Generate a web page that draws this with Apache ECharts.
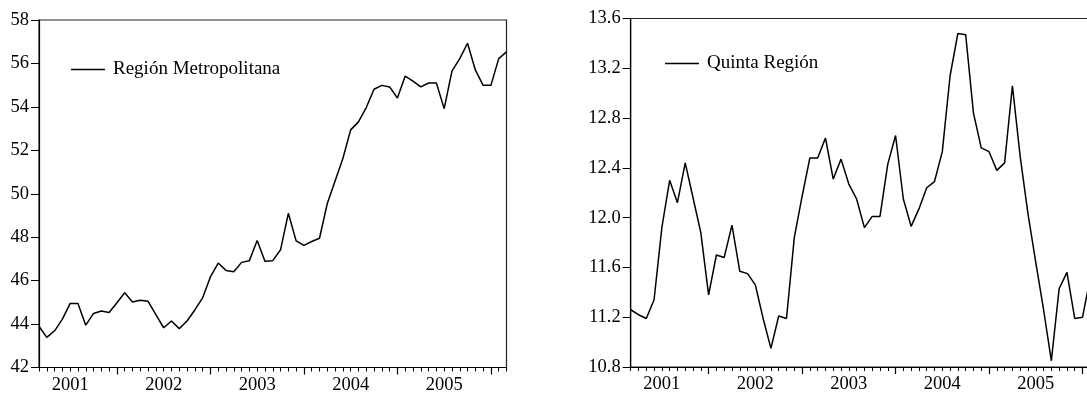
<!DOCTYPE html>
<html>
<head>
<meta charset="utf-8">
<script src="https://cdn.jsdelivr.net/npm/echarts@6/dist/echarts.min.js"></script>
<style>html,body{margin:0;padding:0;background:#fff;overflow:hidden}#c{width:1087px;height:398px}</style>
</head>
<body>
<div id="c"></div>
<script>
var months = ['2001M03','2001M04','2001M05','2001M06','2001M07','2001M08','2001M09','2001M10','2001M11','2001M12',
'2002M01','2002M02','2002M03','2002M04','2002M05','2002M06','2002M07','2002M08','2002M09','2002M10','2002M11','2002M12',
'2003M01','2003M02','2003M03','2003M04','2003M05','2003M06','2003M07','2003M08','2003M09','2003M10','2003M11','2003M12',
'2004M01','2004M02','2004M03','2004M04','2004M05','2004M06','2004M07','2004M08','2004M09','2004M10','2004M11','2004M12',
'2005M01','2005M02','2005M03','2005M04','2005M05','2005M06','2005M07','2005M08','2005M09','2005M10','2005M11','2005M12',
'2006M01','2006M02','2006M03'];

var metropolitana = [43.90,43.39,43.69,44.23,44.95,44.95,43.95,44.49,44.60,44.53,
44.98,45.44,45.02,45.10,45.05,44.44,43.83,44.14,43.79,44.14,44.65,45.21,
46.17,46.81,46.47,46.41,46.84,46.92,47.85,46.89,46.92,47.42,49.10,47.83,
47.62,47.80,47.95,49.55,50.59,51.62,52.94,53.31,53.97,54.81,54.99,54.92,
54.41,55.42,55.19,54.92,55.10,55.10,53.92,55.65,56.22,56.93,55.70,54.99,
54.99,56.22,56.53];

var quinta = [11.26,11.22,11.19,11.34,11.92,12.30,12.12,12.44,12.16,11.88,
11.38,11.70,11.68,11.94,11.57,11.55,11.46,11.19,10.95,11.21,11.19,11.84,
12.17,12.48,12.48,12.64,12.31,12.47,12.27,12.15,11.92,12.01,12.01,12.43,
12.66,12.15,11.93,12.07,12.24,12.29,12.53,13.14,13.48,13.47,12.84,12.56,
12.53,12.38,12.44,13.06,12.49,12.03,11.64,11.26,10.85,11.43,11.56,11.19,
11.20,11.52,11.60];

var seriesNames = ['Región Metropolitana','Quinta Región'];
var yearLabelMonth = 'M07';
var majorTickMonth = 'M01';

var FONT = 'Liberation Serif';
var chart = echarts.init(document.getElementById('c'));

function minorAxis(gi){
  return {
    type:'category', gridIndex:gi, data:months, boundaryGap:false, position:'bottom',
    axisLine:{show:true, lineStyle:{color:'#000', width:1.2}},
    axisTick:{show:true, inside:false, length:4, interval:0, alignWithLabel:true, lineStyle:{color:'#000', width:1}},
    axisLabel:{show:true, margin:8, interval:function(i,v){return v.slice(4)===yearLabelMonth;},
      formatter:function(v){return v.slice(0,4);}, color:'#000', fontFamily:FONT, fontSize:18.5},
    splitLine:{show:false}
  };
}
function majorAxis(gi){
  return {
    type:'category', gridIndex:gi, data:months, boundaryGap:false, position:'bottom',
    axisLine:{show:false},
    axisTick:{show:true, inside:false, length:7, interval:function(i,v){return v.slice(4)===majorTickMonth;}, lineStyle:{color:'#000', width:1.2}},
    axisLabel:{show:false}, splitLine:{show:false}
  };
}
function yAxis(gi, mn, mx, step, dec){
  return {
    type:'value', gridIndex:gi, min:mn, max:mx, interval:step,
    axisLine:{show:true, lineStyle:{color:'#000', width:1.2}},
    axisTick:{show:true, inside:false, length:8, lineStyle:{color:'#000', width:1}},
    axisLabel:{margin:10, color:'#000', fontFamily:FONT, fontSize:18.5,
      formatter:function(v){return v.toFixed(dec);}},
    splitLine:{show:false}
  };
}

chart.setOption({
  animation:false,
  backgroundColor:'#fff',
  grid:[
    {left:39, width:467.5, top:20, bottom:30.5, show:true, borderColor:'#222', borderWidth:1.2, outerBoundsMode:'none'},
    {left:630.7, width:467.4, top:18.5, bottom:31, show:true, borderColor:'#222', borderWidth:1.2, outerBoundsMode:'none'}
  ],
  legend:[
    {data:[seriesNames[0]], left:66, top:54, orient:'vertical', icon:'rect', itemWidth:34, itemHeight:1.5,
      textStyle:{color:'#000', fontFamily:FONT, fontSize:19, lineHeight:21, padding:[0,0,0,3]}},
    {data:[seriesNames[1]], left:660, top:48, orient:'vertical', icon:'rect', itemWidth:34, itemHeight:1.5,
      textStyle:{color:'#000', fontFamily:FONT, fontSize:19, lineHeight:21, padding:[0,0,0,3]}}
  ],
  xAxis:[minorAxis(0), majorAxis(0), minorAxis(1), majorAxis(1)],
  yAxis:[yAxis(0,42,58,2,0), yAxis(1,10.8,13.6,0.4,1)],
  series:[
    {name:seriesNames[0], type:'line', xAxisIndex:0, yAxisIndex:0, data:metropolitana, symbol:'none',
      lineStyle:{color:'#000', width:1.5}, itemStyle:{color:'#000'}},
    {name:seriesNames[1], type:'line', xAxisIndex:2, yAxisIndex:1, data:quinta, symbol:'none',
      lineStyle:{color:'#000', width:1.5}, itemStyle:{color:'#000'}}
  ]
});
</script>
</body>
</html>
